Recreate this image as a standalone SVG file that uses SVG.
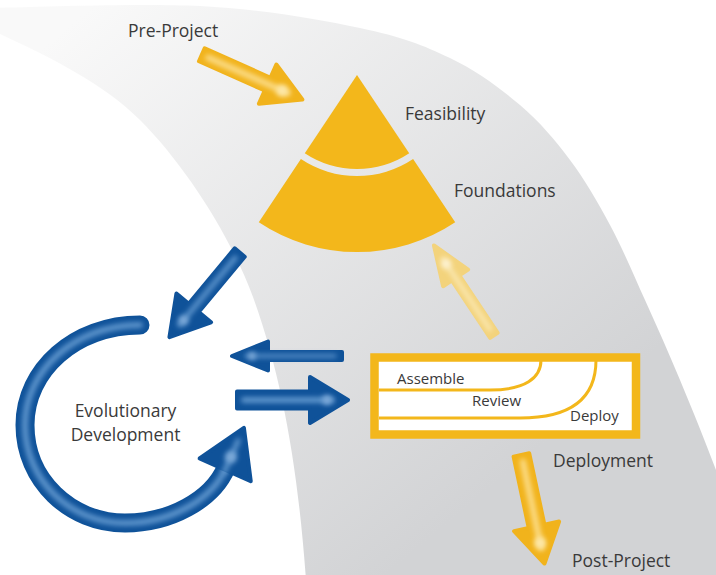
<svg xmlns="http://www.w3.org/2000/svg" width="716" height="575" viewBox="0 0 716 575">
<defs>
<linearGradient id="band" gradientUnits="userSpaceOnUse" x1="100" y1="0" x2="500" y2="480">
<stop offset="0" stop-color="#f9f9f9"/>
<stop offset="1" stop-color="#d2d3d5"/>
</linearGradient>
<filter id="glow" filterUnits="userSpaceOnUse" x="-300" y="-300" width="1400" height="1200">
<feGaussianBlur stdDeviation="2.4"/>
</filter>
</defs>
<style>
.lbl{font-family:"Open Sans","Liberation Sans",sans-serif;font-size:17.5px;fill:#3a3a3a}
.sm{font-size:15px}
.yel{fill:#f3b71b}
.ay{fill:#f1b31c;stroke:#f1b31c;stroke-width:4;stroke-linejoin:round}
.hy{fill:none;stroke:#fbdc86;stroke-linecap:round;filter:url(#glow)}
.ap{fill:#f3d37c;stroke:#f3d37c;stroke-width:4;stroke-linejoin:round}
.hp{fill:none;stroke:#fbeab8;stroke-linecap:round;filter:url(#glow)}
.ab{fill:#0f5299;stroke:#0f5299;stroke-width:4;stroke-linejoin:round}
.hb{fill:none;stroke:#5d94cc;stroke-linecap:round;filter:url(#glow)}
.spot{filter:url(#glow)}
.bx{fill:#ffffff;stroke:#f3b71b;stroke-width:8.5}
.ln{fill:none;stroke:#f3b71b;stroke-width:3}
</style>
<rect width="716" height="575" fill="#ffffff"/>
<path id="band-bg" fill="url(#band)" d="M-20,8 C16.7,7.7 136.7,2.7 200,6 C263.3,9.3 318.3,19.3 360,28 C401.7,36.7 423.3,45.2 450,58 C476.7,70.8 500,88 520,105 C540,122 555,140 570,160 C585,180 597.5,201.7 610,225 C622.5,248.3 633.3,274.2 645,300 C656.7,325.8 668.2,351.7 680,380 C691.8,408.3 706,443.3 716,470 L745,560 L745,620 L310,620 L306,580 C298,470 283,380 253,297 C231,237 185,165 140,120 C95,75 20,43 -40,16 Z"/>

<g id="node-feasibility">
<path class="yel" d="M357,75 L304.8,153.2 A94,94 0 0 0 409.2,153.2 Z"/>
<text class="lbl" x="405" y="120">Feasibility</text>
</g>
<g id="node-foundations">
<path class="yel" d="M300.9,159 L258.8,222.3 A177,177 0 0 0 455.2,222.3 L413.1,159 A101,101 0 0 1 300.9,159 Z"/>
<text class="lbl" x="454" y="197">Foundations</text>
</g>
<g id="node-preproject">
<text class="lbl" x="128" y="37">Pre-Project</text>
</g>
<g id="node-evolutionary">
<text class="lbl" x="125.5" y="417" text-anchor="middle">Evolutionary</text>
<text class="lbl" x="125.5" y="441" text-anchor="middle">Development</text>
</g>
<g id="node-deployment-box">
<rect class="bx" x="374.5" y="357.5" width="261.5" height="77"/>
<path class="ln" d="M379,390 H490 C525,390 541,378 541,360"/>
<path class="ln" d="M379,418 H520 C575,418 596,395 596,360"/>
<text class="lbl sm" x="397" y="384">Assemble</text>
<text class="lbl sm" x="472" y="405.5">Review</text>
<text class="lbl sm" x="570" y="421">Deploy</text>
</g>
<g id="node-deployment">
<text class="lbl" x="553" y="467">Deployment</text>
</g>
<g id="node-postproject">
<text class="lbl" x="572" y="567">Post-Project</text>
</g>

<g id="connectors">
<g id="arrow-preproject" transform="translate(200,54) rotate(24)">
<path class="ay" d="M2,-7 L74,-7 L74,-21.5 L112,0 L74,21.5 L74,7 L2,7 Z"/>
<path class="hy" stroke-width="6" d="M9,0 L96,0"/>
<circle class="spot" cx="90" cy="0" r="6" fill="#fde7a6"/>
</g>
<g id="arrow-to-evo" transform="translate(241,251) rotate(129.7)">
<path class="ab" d="M2,-6.5 L74,-6.5 L74,-22.5 L112,0 L74,22.5 L74,6.5 L2,6.5 Z"/>
<path class="hb" stroke-width="5" d="M9,0 L96,0"/>
<circle class="spot" cx="90" cy="0" r="5" fill="#7aa8d8"/>
</g>
<g id="arrow-box-to-evo" transform="translate(344,356) rotate(180)">
<path class="ab" d="M2,-4 L76,-4 L76,-14.5 L112,0 L76,14.5 L76,4 L2,4 Z"/>
<path class="hb" stroke-width="3.5" d="M9,0 L98,0"/>
<circle class="spot" cx="92" cy="0" r="4" fill="#7aa8d8"/>
</g>
<g id="arrow-evo-to-box" transform="translate(235,400)">
<path class="ab" d="M2,-8.5 L75,-8.5 L75,-23 L113,0 L75,23 L75,8.5 L2,8.5 Z"/>
<path class="hb" stroke-width="6" d="M9,0 L97,0"/>
<circle class="spot" cx="92" cy="0" r="5" fill="#7aa8d8"/>
</g>
<g id="arrow-box-to-foundations" transform="translate(495,337) rotate(-123.7)">
<path class="ap" d="M2,-4.5 L71,-4.5 L71,-15 L110,0 L71,15 L71,4.5 L2,4.5 Z"/>
<path class="hp" stroke-width="4" d="M9,0 L94,0"/>
<circle class="spot" cx="88" cy="0" r="5" fill="#fdf1cf"/>
</g>
<g id="arrow-postproject" transform="translate(521,453) rotate(78)">
<path class="ay" d="M2,-8 L75,-8 L75,-23 L113,0 L75,23 L75,8 L2,8 Z"/>
<path class="hy" stroke-width="6" d="M9,0 L97,0"/>
<circle class="spot" cx="92" cy="0" r="6" fill="#fde7a6"/>
</g>
<g id="arrow-evo-loop">
<path d="M140,325 C75,325 25,370 25,425 C25,480 70,523 125,523 C170,523 212,500 226,468" fill="none" stroke="#0f5299" stroke-width="19" stroke-linecap="round"/>
<path class="hb" stroke-width="6" d="M140,325 C75,325 25,370 25,425 C25,480 70,523 125,523 C170,523 212,500 226,468"/>
<g transform="translate(226,468) rotate(-66)">
<path class="ab" d="M-2,-28 L44,0 L-2,28 Z"/>
<path class="hb" stroke-width="5" d="M-4,0 L30,0"/>
<circle class="spot" cx="12" cy="0" r="6" fill="#7aa8d8"/>
</g>
</g>
</g>
</svg>
